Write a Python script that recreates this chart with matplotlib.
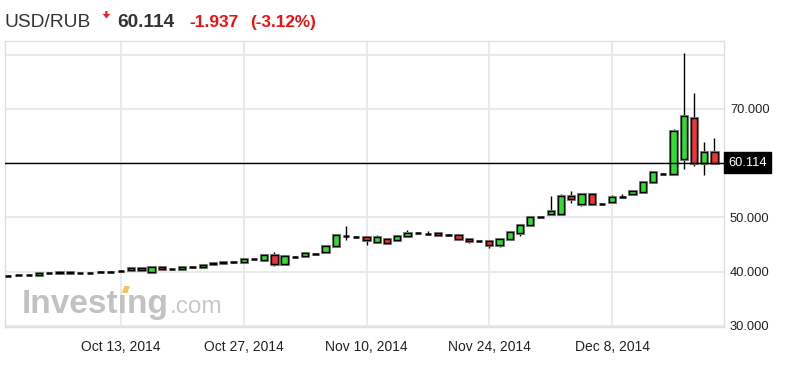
import matplotlib
matplotlib.use('Agg')
import matplotlib.pyplot as plt
import numpy as np
import pandas as pd
from matplotlib.patches import Polygon

plt.rcParams['font.family'] = ['Liberation Sans', 'DejaVu Sans']

# ---------------- data ----------------
# daily candles (Sunday..Friday sessions), Sep 30 2014 .. Dec 19 2014
all_days = pd.date_range('2014-09-30', '2014-12-19', freq='D')
dates = [d for d in all_days if d.weekday() != 5]

opens = [39.26, 39.34, 39.40, 39.40, 39.78, 39.85, 39.70, 39.78, 39.80, 39.95,
         40.00, 40.15, 40.30, 40.65, 40.00, 40.85, 40.50, 40.55, 40.85, 40.85,
         41.40, 41.60, 41.70, 41.75, 42.30, 42.15, 43.10, 41.35, 42.75, 42.90,
         43.25, 43.55, 44.65, 46.65, 46.45, 46.45, 45.50, 46.00, 45.80, 46.50,
         47.20, 47.00, 47.05, 46.80, 46.75, 46.00, 45.60, 45.60, 44.85, 46.00,
         47.20, 48.55, 50.10, 50.60, 50.60, 53.95, 52.40, 54.40, 52.50, 52.75,
         53.80, 54.25, 54.70, 56.45, 58.05, 57.95, 60.70, 68.40, 60.07, 62.00]
closes = [39.26, 39.34, 39.40, 39.80, 39.78, 39.70, 39.85, 39.78, 39.80, 39.95,
          40.00, 40.15, 40.70, 40.30, 40.85, 40.50, 40.50, 40.80, 40.85, 41.30,
          41.60, 41.80, 41.70, 42.25, 42.30, 43.10, 41.40, 42.90, 42.75, 43.45,
          43.25, 44.70, 46.75, 46.65, 46.45, 45.80, 46.35, 45.25, 46.50, 47.05,
          47.20, 47.00, 46.75, 46.80, 46.00, 45.60, 45.60, 44.90, 46.00, 47.25,
          48.60, 50.10, 50.10, 51.10, 53.95, 53.35, 54.40, 52.40, 52.50, 53.70,
          53.80, 54.85, 56.45, 58.30, 58.05, 65.90, 68.70, 60.00, 62.00, 60.114]
highs = [39.45, 39.45, 39.55, 39.85, 39.82, 39.90, 39.90, 39.82, 39.85, 40.15,
         40.05, 40.25, 40.75, 40.70, 40.95, 40.95, 40.55, 40.90, 40.90, 41.35,
         41.70, 41.90, 41.75, 42.30, 42.40, 43.15, 43.70, 42.95, 42.80, 43.50,
         43.45, 44.75, 46.80, 48.35, 46.50, 46.50, 46.75, 46.20, 46.55, 47.70,
         47.25, 47.50, 47.10, 46.85, 46.80, 46.05, 45.65, 45.65, 46.05, 47.30,
         48.65, 50.15, 50.15, 53.90, 54.30, 54.85, 54.45, 54.45, 52.55, 54.10,
         54.40, 54.90, 56.50, 58.55, 58.10, 66.20, 80.20, 72.85, 63.80, 64.55]
lows = [39.24, 39.30, 39.35, 39.38, 39.75, 39.65, 39.65, 39.75, 39.77, 39.93,
        39.97, 40.12, 40.28, 40.28, 40.00, 40.45, 40.47, 40.50, 40.82, 40.80,
        41.38, 41.58, 41.67, 41.72, 42.27, 42.10, 41.10, 41.30, 42.72, 42.88,
        43.22, 43.50, 44.60, 45.80, 46.42, 44.90, 45.45, 45.20, 45.75, 46.45,
        47.17, 46.97, 46.70, 46.77, 45.95, 45.20, 45.57, 44.40, 44.50, 45.95,
        46.60, 48.50, 50.07, 50.55, 50.55, 52.70, 52.10, 52.35, 52.47, 52.70,
        53.77, 54.10, 54.65, 56.40, 58.02, 57.90, 59.00, 59.50, 57.90, 59.80]

tick_dates = ['2014-10-13', '2014-10-27', '2014-11-10', '2014-11-24', '2014-12-08']
tick_labels = ['Oct 13, 2014', 'Oct 27, 2014', 'Nov 10, 2014', 'Nov 24, 2014', 'Dec 8, 2014']

y_ticks = [30, 40, 50, 60, 70, 80]
y_tick_labels = ['30.000', '40.000', '50.000', '', '70.000', '']

last_price = 60.114
change = '-1.937'
change_pct = '(-3.12%)'
pair = 'USD/RUB'

# ---------------- figure ----------------
W, H = 786, 368
fig = plt.figure(figsize=(W / 100, H / 100), dpi=100)
fig.patch.set_facecolor('white')


def px(x, y):
    return (x / W, 1 - y / H)


ax_l, ax_r, ax_t, ax_b = 4.5, 723.5, 41, 326.5
ax = fig.add_axes([ax_l / W, 1 - ax_b / H, (ax_r - ax_l) / W, (ax_b - ax_t) / H])
ax.set_facecolor('white')

GREEN = '#2ee02e'
RED = '#f03434'

x = np.arange(len(dates))
o = np.array(opens)
c = np.array(closes)
h = np.array(highs)
l = np.array(lows)

ax.vlines(x, l, h, color='black', lw=1.0, zorder=2)
doji = np.isclose(o, c)
body = ~doji
bw = 0.62
ax.bar(x[body], np.abs(c - o)[body], bottom=np.minimum(o, c)[body], width=bw,
       color=np.where((c > o)[body], GREEN, RED), edgecolor='#8a8a8a', lw=2.2, zorder=3)
ax.bar(x[body], np.abs(c - o)[body], bottom=np.minimum(o, c)[body], width=bw,
       color=np.where((c > o)[body], GREEN, RED), edgecolor='black', lw=1.0, zorder=3)
ax.hlines(c[doji], x[doji] - bw / 2, x[doji] + bw / 2, color='black', lw=1.8, zorder=3)

# last price line + label
ax.axhline(last_price, color='black', lw=1.0, zorder=4)
ax.annotate(f'{last_price:.3f}', xy=(1, last_price), xycoords=('axes fraction', 'data'),
            xytext=(4.5, 0), textcoords='offset pixels', ha='left', va='center',
            color='white', fontsize=9.3, annotation_clip=False,
            bbox=dict(boxstyle='square,pad=0.32', fc='black', ec='black'), zorder=6)

ax.set_xlim(-0.37, 69.88)
ax.set_ylim(29.9, 82.5)

date_str = [d.strftime('%Y-%m-%d') for d in dates]
ax.set_xticks([date_str.index(d) for d in tick_dates])
ax.set_xticklabels(tick_labels, fontsize=10, color='#222222')
ax.set_yticks(y_ticks)
ax.set_yticklabels(y_tick_labels, fontsize=9.3, color='#222222')
ax.yaxis.tick_right()
ax.tick_params(axis='y', length=0, pad=4.7)
ax.tick_params(axis='x', length=0, pad=10)
ax.grid(True, color='#e7e7ef', lw=1.3, zorder=0)
ax.set_axisbelow(True)
for s in ax.spines.values():
    s.set_color('#dedee6')
    s.set_linewidth(1.0)

# watermark
fig.text(*px(22, 313.3), 'Investıng', fontsize=24, fontweight='bold', color='#c2c2c2',
         va='baseline', ha='left', zorder=1)
fig.text(*px(170, 313.3), '.com', fontsize=17.6, color='#c8c8c8',
         va='baseline', ha='left', zorder=1)
fig.patches.append(Polygon([px(122.0, 293), px(127.5, 293), px(129.8, 286), px(124.3, 286)],
                           closed=True, transform=fig.transFigure, fc='#f7c25e', ec='none'))

# header
fig.text(*px(5, 26.7), pair, fontsize=13.8, color='#333333', va='baseline', ha='left')
fig.patches.append(Polygon([px(105.3, 11), px(107.5, 11), px(107.5, 13.8), px(110.3, 13.8),
                            px(106.4, 18.5), px(102.5, 13.8), px(105.3, 13.8)],
                           closed=True, transform=fig.transFigure, fc='#e8262a', ec='none'))
fig.text(*px(117, 26.7), f'{last_price:.3f}', fontsize=13.7, fontweight='bold',
         color='#333333', va='baseline', ha='left')
fig.text(*px(189, 26.7), change, fontsize=12.5, fontweight='bold', color='#ee1111',
         va='baseline', ha='left')
fig.text(*px(250, 26.7), change_pct, fontsize=12.3, fontweight='bold', color='#ee1111',
         va='baseline', ha='left')

fig.savefig('out.png', dpi=100, facecolor='white')
